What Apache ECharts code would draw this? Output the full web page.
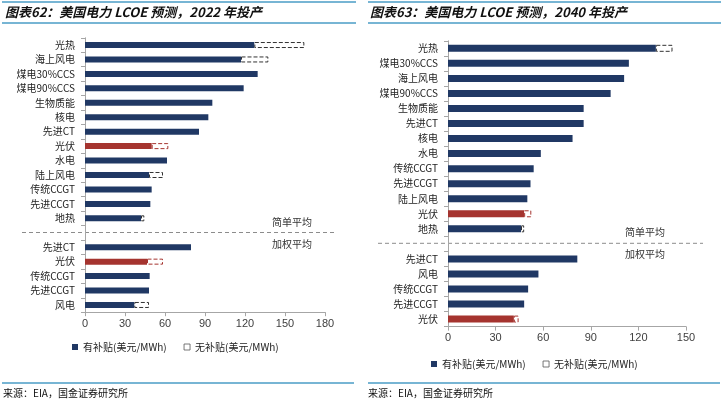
<!DOCTYPE html>
<html>
<head>
<meta charset="utf-8">
<script src="https://cdn.jsdelivr.net/npm/echarts@6/dist/echarts.min.js"></script>
<style>
html,body{margin:0;padding:0;background:#fff;}
#c{width:725px;height:399px;}
</style>
</head>
<body>
<div id="c"></div>
<script>
// ---- data ----
const catsL = ['光热','海上风电','煤电30%CCS','煤电90%CCS','生物质能','核电','先进CT','光伏','水电','陆上风电','传统CCGT','先进CCGT','地热','','先进CT','光伏','传统CCGT','先进CCGT','风电'];
const subL   = [127, 117, 129.5, 119, 95.5, 92.5, 85.5, 50, 61.5, 48, 50, 49, 42, null, 79.5, 46.5, 48.5, 48, 37];
const unsubL = [164.5, 137.5, null, null, null, null, null, 62.5, null, 58.5, null, null, 44.5, null, null, 58.5, null, null, 48];

const catsR = ['光热','煤电30%CCS','海上风电','煤电90%CCS','生物质能','先进CT','核电','水电','传统CCGT','先进CCGT','陆上风电','光伏','地热','','先进CT','风电','传统CCGT','先进CCGT','光伏'];
const subR   = [131, 114, 111, 102.5, 85.5, 85.5, 78.5, 58.5, 54, 52, 50, 48, 46, null, 81.5, 57, 50.5, 48, 41.5];
const unsubR = [141.5, null, null, null, null, null, null, null, null, null, null, 52.5, 48, null, null, null, null, null, 44.5];

const ticksL = [0, 30, 60, 90, 120, 150, 180];
const ticksR = [0, 30, 60, 90, 120, 150];

const titleL = '图表62：美国电力 LCOE 预测，2022 年投产';
const titleR = '图表63：美国电力 LCOE 预测，2040 年投产';
const source = '来源：EIA，国金证券研究所';
const nameSub = '有补贴(美元/MWh)';
const nameUnsub = '无补贴(美元/MWh)';
const grpA = '简单平均';
const grpB = '加权平均';

// ---- styling ----
const NAVY = '#203864';
const RED = '#a5342f';
const FONT = '"Noto Sans CJK SC", "Noto Sans", sans-serif';
const BLUE_LINE = '#4a9cc6';

function subData(cats, vals) {
  return vals.map((v, i) => ({
    value: v,
    itemStyle: { color: cats[i] === '光伏' ? RED : NAVY }
  }));
}
function diffData(cats, sub, unsub) {
  return unsub.map((u, i) => ({
    value: (u == null || sub[i] == null) ? null : +(u - sub[i]).toFixed(2),
    itemStyle: { borderColor: cats[i] === '光伏' ? RED : '#333' }
  }));
}

function xAxis(idx, ticks) {
  return {
    type: 'value', gridIndex: idx,
    min: 0, max: ticks[ticks.length - 1], interval: 30,
    splitLine: { show: false },
    axisLine: { show: true, lineStyle: { color: '#a6a6a6' } },
    axisTick: { show: true, length: 4, lineStyle: { color: '#a6a6a6' } },
    axisLabel: { color: '#404040', fontSize: 11, margin: 6, fontFamily: '"Liberation Sans", Arial, sans-serif' }
  };
}
function yAxis(idx, cats) {
  return {
    type: 'category', gridIndex: idx, data: cats, inverse: true,
    axisLine: { show: true, lineStyle: { color: '#a6a6a6' } },
    axisTick: { show: true, length: 4, lineStyle: { color: '#a6a6a6' } },
    axisLabel: { color: '#222', fontSize: 10, margin: 10, fontFamily: FONT, interval: 0 }
  };
}
function legend(left, top) {
  return {
    left, top, padding: 0, itemWidth: 6, itemHeight: 6, itemGap: 17, icon: 'rect',
    textStyle: { fontSize: 10, color: '#222', fontFamily: FONT },
    data: [
      { name: nameSub },
      { name: nameUnsub, itemStyle: { color: '#fff', borderColor: '#555', borderWidth: 0.8, borderType: 'solid' } }
    ]
  };
}

const chart = echarts.init(document.getElementById('c'), null, { renderer: 'canvas' });

function hline(x1, x2, y, color, w, dash) {
  return { type: 'line', shape: { x1, y1: y, x2, y2: y }, style: { stroke: color, lineWidth: w, lineDash: dash || null } };
}
function txt(x, y, text, opts) {
  return { type: 'text', x, y, style: Object.assign({ text, fill: '#222', font: '10px ' + FONT }, opts || {}) };
}

chart.setOption({
  animation: false,
  textStyle: { fontFamily: FONT },
  grid: [
    { left: 85, top: 37.8, width: 240, height: 274.4, containLabel: false },
    { left: 448, top: 40.8, width: 238, height: 285.8, containLabel: false }
  ],
  xAxis: [xAxis(0, ticksL), xAxis(1, ticksR)],
  yAxis: [yAxis(0, catsL), yAxis(1, catsR)],
  legend: [legend(72, 342), legend(431, 359)],
  series: [
    { name: nameSub, type: 'bar', xAxisIndex: 0, yAxisIndex: 0, stack: 'L', barWidth: 6,
      itemStyle: { color: NAVY }, data: subData(catsL, subL) },
    { name: nameUnsub, type: 'bar', xAxisIndex: 0, yAxisIndex: 0, stack: 'L', barWidth: 6,
      itemStyle: { color: '#fff', borderColor: '#333', borderType: 'dashed', borderWidth: 1 },
      data: diffData(catsL, subL, unsubL) },
    { name: nameSub, type: 'bar', xAxisIndex: 1, yAxisIndex: 1, stack: 'R', barWidth: 7,
      itemStyle: { color: NAVY }, data: subData(catsR, subR) },
    { name: nameUnsub, type: 'bar', xAxisIndex: 1, yAxisIndex: 1, stack: 'R', barWidth: 7,
      itemStyle: { color: '#fff', borderColor: '#333', borderType: 'dashed', borderWidth: 1 },
      data: diffData(catsR, subR, unsubR) }
  ],
  graphic: [
    hline(2, 356, 2, BLUE_LINE, 1.5), hline(2, 356, 23, BLUE_LINE, 1.5),
    hline(368, 721, 2, BLUE_LINE, 1.5), hline(368, 721, 23, BLUE_LINE, 1.5),
    hline(2, 354, 383, BLUE_LINE, 1.5), hline(368, 720, 383, BLUE_LINE, 1.5),
    txt(5, 12.5, titleL, { font: 'italic bold 13px ' + FONT, fill: '#111', textVerticalAlign: 'middle' }),
    txt(370, 12.5, titleR, { font: 'italic bold 13px ' + FONT, fill: '#111', textVerticalAlign: 'middle' }),
    txt(3, 393, source, { font: '10px ' + FONT, fill: '#111', textVerticalAlign: 'middle' }),
    txt(368, 393, source, { font: '10px ' + FONT, fill: '#111', textVerticalAlign: 'middle' }),
    hline(22, 335, 232.5, '#8c8c8c', 1, [4, 3]),
    hline(378, 703, 243.3, '#8c8c8c', 1, [4, 3]),
    txt(292, 222, grpA, { textAlign: 'center', textVerticalAlign: 'middle', fill: '#333' }),
    txt(292, 244, grpB, { textAlign: 'center', textVerticalAlign: 'middle', fill: '#333' }),
    txt(645, 232, grpA, { textAlign: 'center', textVerticalAlign: 'middle', fill: '#333' }),
    txt(645, 254, grpB, { textAlign: 'center', textVerticalAlign: 'middle', fill: '#333' })
  ]
});
</script>
</body>
</html>
